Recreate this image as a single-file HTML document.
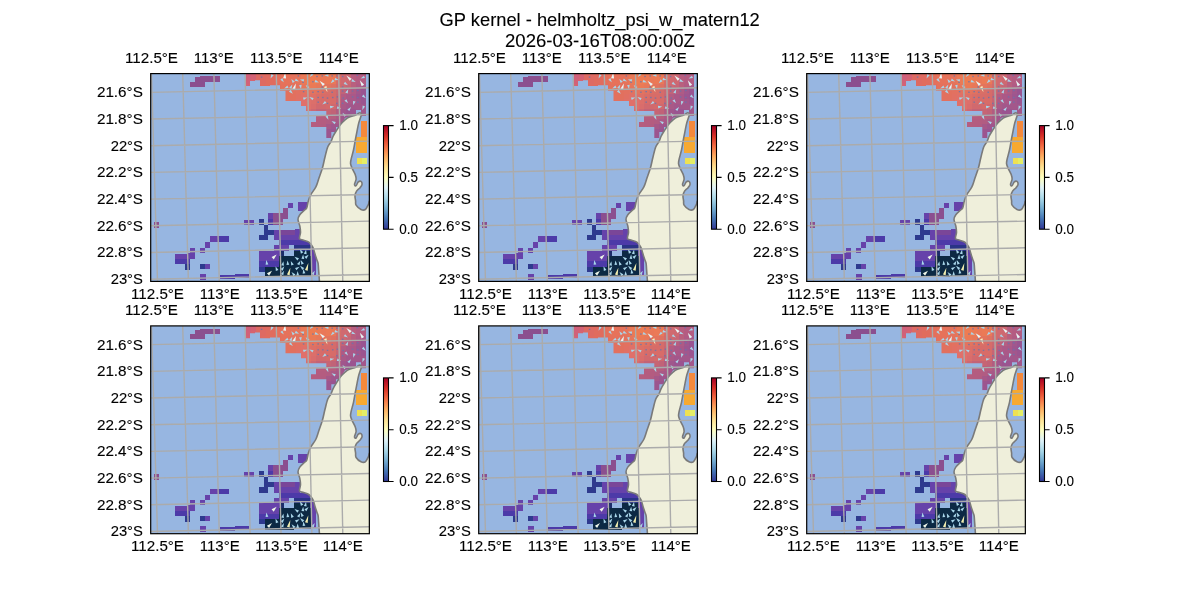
<!DOCTYPE html>
<html><head><meta charset="utf-8"><style>
html,body{margin:0;padding:0;background:#fff;width:1200px;height:600px;overflow:hidden}
svg{display:block;font-family:"Liberation Sans", sans-serif;fill:#000;will-change:transform}
text{stroke:#000;stroke-width:0.12px}
</style></head><body>
<svg width="1200" height="600" viewBox="0 0 1200 600">
<defs><linearGradient id="cmap" x1="0" y1="1" x2="0" y2="0"><stop offset="0.0" stop-color="#313695"/><stop offset="0.1" stop-color="#4575b4"/><stop offset="0.2" stop-color="#74add1"/><stop offset="0.3" stop-color="#abd9e9"/><stop offset="0.4" stop-color="#e0f3f8"/><stop offset="0.5" stop-color="#ffffbf"/><stop offset="0.6" stop-color="#fee090"/><stop offset="0.7" stop-color="#fdae61"/><stop offset="0.8" stop-color="#f46d43"/><stop offset="0.9" stop-color="#d73027"/><stop offset="1.0" stop-color="#a50026"/></linearGradient>
<clipPath id="clip"><rect x="150.7" y="73.6" width="218.65" height="207.8"/></clipPath>
<g id="map"><g clip-path="url(#clip)"><rect x="150.7" y="73.6" width="218.65" height="207.8" fill="#97b6e1"/>
<clipPath id="redclip"><polygon points="246,73.6 366,73.6 366,116 361,116 361,110 356,110 356,114.3 345,118 340,127 336,127 336,132 331.3,132 331.3,138 326.3,138 326.3,127 311,127 311,122 316,122 316,116 326.3,116 326.3,111 306,111 306,106 301,106 301,101 285.5,101 285.5,90.8 280,90.8 280,85.2 270,85.2 270,86 260,86 260,80.2 255,80.2 255,81 250,81 250,86 246,86"/></clipPath>
<g clip-path="url(#redclip)" shape-rendering="crispEdges"><rect x="246" y="73.6" width="5.1" height="5.1" fill="#d0607a"/><rect x="251" y="73.6" width="5.1" height="5.1" fill="#d36274"/><rect x="256" y="73.6" width="5.1" height="5.1" fill="#dd6a63"/><rect x="261" y="73.6" width="5.1" height="5.1" fill="#de6a62"/><rect x="266" y="73.6" width="5.1" height="5.1" fill="#df6b60"/><rect x="271" y="73.6" width="5.1" height="5.1" fill="#e06c5f"/><rect x="276" y="73.6" width="5.1" height="5.1" fill="#e3705c"/><rect x="281" y="73.6" width="5.1" height="5.1" fill="#e6725a"/><rect x="286" y="73.6" width="5.1" height="5.1" fill="#e6725a"/><rect x="291" y="73.6" width="5.1" height="5.1" fill="#e5725b"/><rect x="296" y="73.6" width="5.1" height="5.1" fill="#e6745a"/><rect x="301" y="73.6" width="5.1" height="5.1" fill="#ea7956"/><rect x="306" y="73.6" width="5.1" height="5.1" fill="#ed7b53"/><rect x="311" y="73.6" width="5.1" height="5.1" fill="#ed7c53"/><rect x="316" y="73.6" width="5.1" height="5.1" fill="#eb7a55"/><rect x="321" y="73.6" width="5.1" height="5.1" fill="#ea7957"/><rect x="326" y="73.6" width="5.1" height="5.1" fill="#ec7a55"/><rect x="331" y="73.6" width="5.1" height="5.1" fill="#ea7956"/><rect x="336" y="73.6" width="5.1" height="5.1" fill="#d96f67"/><rect x="341" y="73.6" width="5.1" height="5.1" fill="#d06a70"/><rect x="346" y="73.6" width="5.1" height="5.1" fill="#cc6872"/><rect x="351" y="73.6" width="5.1" height="5.1" fill="#b85e80"/><rect x="356" y="73.6" width="5.1" height="5.1" fill="#b45c82"/><rect x="361" y="73.6" width="5.1" height="5.1" fill="#b45c82"/><rect x="366" y="73.6" width="5.1" height="5.1" fill="#b45d82"/><rect x="246" y="78.6" width="5.1" height="5.1" fill="#d16178"/><rect x="251" y="78.6" width="5.1" height="5.1" fill="#d66470"/><rect x="256" y="78.6" width="5.1" height="5.1" fill="#dd6a63"/><rect x="261" y="78.6" width="5.1" height="5.1" fill="#de6a62"/><rect x="266" y="78.6" width="5.1" height="5.1" fill="#e06c5e"/><rect x="271" y="78.6" width="5.1" height="5.1" fill="#e06c5e"/><rect x="276" y="78.6" width="5.1" height="5.1" fill="#e4705c"/><rect x="281" y="78.6" width="5.1" height="5.1" fill="#e6725a"/><rect x="286" y="78.6" width="5.1" height="5.1" fill="#e6725a"/><rect x="291" y="78.6" width="5.1" height="5.1" fill="#e5725c"/><rect x="296" y="78.6" width="5.1" height="5.1" fill="#e5745b"/><rect x="301" y="78.6" width="5.1" height="5.1" fill="#ea7956"/><rect x="306" y="78.6" width="5.1" height="5.1" fill="#ee7c52"/><rect x="311" y="78.6" width="5.1" height="5.1" fill="#ee7c52"/><rect x="316" y="78.6" width="5.1" height="5.1" fill="#eb7a55"/><rect x="321" y="78.6" width="5.1" height="5.1" fill="#e97858"/><rect x="326" y="78.6" width="5.1" height="5.1" fill="#eb7a56"/><rect x="331" y="78.6" width="5.1" height="5.1" fill="#e97858"/><rect x="336" y="78.6" width="5.1" height="5.1" fill="#d56d6a"/><rect x="341" y="78.6" width="5.1" height="5.1" fill="#d06a70"/><rect x="346" y="78.6" width="5.1" height="5.1" fill="#ce6971"/><rect x="351" y="78.6" width="5.1" height="5.1" fill="#b95f7e"/><rect x="356" y="78.6" width="5.1" height="5.1" fill="#b45c82"/><rect x="361" y="78.6" width="5.1" height="5.1" fill="#b35c82"/><rect x="366" y="78.6" width="5.1" height="5.1" fill="#af5b84"/><rect x="246" y="83.6" width="5.1" height="5.1" fill="#d46373"/><rect x="251" y="83.6" width="5.1" height="5.1" fill="#d8666c"/><rect x="256" y="83.6" width="5.1" height="5.1" fill="#dd6964"/><rect x="261" y="83.6" width="5.1" height="5.1" fill="#df6b61"/><rect x="266" y="83.6" width="5.1" height="5.1" fill="#e06c5e"/><rect x="271" y="83.6" width="5.1" height="5.1" fill="#e06c5e"/><rect x="276" y="83.6" width="5.1" height="5.1" fill="#e26f5d"/><rect x="281" y="83.6" width="5.1" height="5.1" fill="#e5715b"/><rect x="286" y="83.6" width="5.1" height="5.1" fill="#e4715c"/><rect x="291" y="83.6" width="5.1" height="5.1" fill="#e3715d"/><rect x="296" y="83.6" width="5.1" height="5.1" fill="#e3725d"/><rect x="301" y="83.6" width="5.1" height="5.1" fill="#e7765a"/><rect x="306" y="83.6" width="5.1" height="5.1" fill="#eb7a56"/><rect x="311" y="83.6" width="5.1" height="5.1" fill="#eb7a55"/><rect x="316" y="83.6" width="5.1" height="5.1" fill="#e77859"/><rect x="321" y="83.6" width="5.1" height="5.1" fill="#e3755c"/><rect x="326" y="83.6" width="5.1" height="5.1" fill="#e3755d"/><rect x="331" y="83.6" width="5.1" height="5.1" fill="#de7261"/><rect x="336" y="83.6" width="5.1" height="5.1" fill="#d26c6c"/><rect x="341" y="83.6" width="5.1" height="5.1" fill="#cd6971"/><rect x="346" y="83.6" width="5.1" height="5.1" fill="#c76675"/><rect x="351" y="83.6" width="5.1" height="5.1" fill="#b9607e"/><rect x="356" y="83.6" width="5.1" height="5.1" fill="#b05b84"/><rect x="361" y="83.6" width="5.1" height="5.1" fill="#a85989"/><rect x="366" y="83.6" width="5.1" height="5.1" fill="#a5588a"/><rect x="246" y="88.6" width="5.1" height="5.1" fill="#d7666e"/><rect x="251" y="88.6" width="5.1" height="5.1" fill="#da6869"/><rect x="256" y="88.6" width="5.1" height="5.1" fill="#dc6a64"/><rect x="261" y="88.6" width="5.1" height="5.1" fill="#de6b61"/><rect x="266" y="88.6" width="5.1" height="5.1" fill="#df6c60"/><rect x="271" y="88.6" width="5.1" height="5.1" fill="#e06d5f"/><rect x="276" y="88.6" width="5.1" height="5.1" fill="#e16f5e"/><rect x="281" y="88.6" width="5.1" height="5.1" fill="#e2705e"/><rect x="286" y="88.6" width="5.1" height="5.1" fill="#e2705e"/><rect x="291" y="88.6" width="5.1" height="5.1" fill="#e2705e"/><rect x="296" y="88.6" width="5.1" height="5.1" fill="#e27160"/><rect x="301" y="88.6" width="5.1" height="5.1" fill="#e27261"/><rect x="306" y="88.6" width="5.1" height="5.1" fill="#e3745f"/><rect x="311" y="88.6" width="5.1" height="5.1" fill="#e3745e"/><rect x="316" y="88.6" width="5.1" height="5.1" fill="#df7261"/><rect x="321" y="88.6" width="5.1" height="5.1" fill="#db6f64"/><rect x="326" y="88.6" width="5.1" height="5.1" fill="#d86e67"/><rect x="331" y="88.6" width="5.1" height="5.1" fill="#d56c6a"/><rect x="336" y="88.6" width="5.1" height="5.1" fill="#cb6871"/><rect x="341" y="88.6" width="5.1" height="5.1" fill="#c06379"/><rect x="346" y="88.6" width="5.1" height="5.1" fill="#b65e80"/><rect x="351" y="88.6" width="5.1" height="5.1" fill="#ae5b85"/><rect x="356" y="88.6" width="5.1" height="5.1" fill="#a1578d"/><rect x="361" y="88.6" width="5.1" height="5.1" fill="#995491"/><rect x="366" y="88.6" width="5.1" height="5.1" fill="#9b5590"/><rect x="246" y="93.6" width="5.1" height="5.1" fill="#d9676b"/><rect x="251" y="93.6" width="5.1" height="5.1" fill="#da6968"/><rect x="256" y="93.6" width="5.1" height="5.1" fill="#dc6a65"/><rect x="261" y="93.6" width="5.1" height="5.1" fill="#de6b62"/><rect x="266" y="93.6" width="5.1" height="5.1" fill="#df6c61"/><rect x="271" y="93.6" width="5.1" height="5.1" fill="#e06d60"/><rect x="276" y="93.6" width="5.1" height="5.1" fill="#e16f5f"/><rect x="281" y="93.6" width="5.1" height="5.1" fill="#e2705e"/><rect x="286" y="93.6" width="5.1" height="5.1" fill="#e2705e"/><rect x="291" y="93.6" width="5.1" height="5.1" fill="#e2705e"/><rect x="296" y="93.6" width="5.1" height="5.1" fill="#e17063"/><rect x="301" y="93.6" width="5.1" height="5.1" fill="#e07068"/><rect x="306" y="93.6" width="5.1" height="5.1" fill="#df7068"/><rect x="311" y="93.6" width="5.1" height="5.1" fill="#dd7066"/><rect x="316" y="93.6" width="5.1" height="5.1" fill="#d96e67"/><rect x="321" y="93.6" width="5.1" height="5.1" fill="#d76c68"/><rect x="326" y="93.6" width="5.1" height="5.1" fill="#d76c68"/><rect x="331" y="93.6" width="5.1" height="5.1" fill="#d66b69"/><rect x="336" y="93.6" width="5.1" height="5.1" fill="#c86673"/><rect x="341" y="93.6" width="5.1" height="5.1" fill="#b35c82"/><rect x="346" y="93.6" width="5.1" height="5.1" fill="#ab5987"/><rect x="351" y="93.6" width="5.1" height="5.1" fill="#aa5888"/><rect x="356" y="93.6" width="5.1" height="5.1" fill="#9d568f"/><rect x="361" y="93.6" width="5.1" height="5.1" fill="#985492"/><rect x="366" y="93.6" width="5.1" height="5.1" fill="#995491"/><rect x="246" y="98.6" width="5.1" height="5.1" fill="#d96869"/><rect x="251" y="98.6" width="5.1" height="5.1" fill="#db6967"/><rect x="256" y="98.6" width="5.1" height="5.1" fill="#dc6a65"/><rect x="261" y="98.6" width="5.1" height="5.1" fill="#dd6b63"/><rect x="266" y="98.6" width="5.1" height="5.1" fill="#de6c62"/><rect x="271" y="98.6" width="5.1" height="5.1" fill="#df6d61"/><rect x="276" y="98.6" width="5.1" height="5.1" fill="#e06f60"/><rect x="281" y="98.6" width="5.1" height="5.1" fill="#e1705f"/><rect x="286" y="98.6" width="5.1" height="5.1" fill="#e2705f"/><rect x="291" y="98.6" width="5.1" height="5.1" fill="#e17060"/><rect x="296" y="98.6" width="5.1" height="5.1" fill="#e07067"/><rect x="301" y="98.6" width="5.1" height="5.1" fill="#e0706a"/><rect x="306" y="98.6" width="5.1" height="5.1" fill="#e0706a"/><rect x="311" y="98.6" width="5.1" height="5.1" fill="#dc6f6a"/><rect x="316" y="98.6" width="5.1" height="5.1" fill="#d66c6a"/><rect x="321" y="98.6" width="5.1" height="5.1" fill="#d66b69"/><rect x="326" y="98.6" width="5.1" height="5.1" fill="#d86c68"/><rect x="331" y="98.6" width="5.1" height="5.1" fill="#d76c69"/><rect x="336" y="98.6" width="5.1" height="5.1" fill="#c66574"/><rect x="341" y="98.6" width="5.1" height="5.1" fill="#ae5a85"/><rect x="346" y="98.6" width="5.1" height="5.1" fill="#aa5888"/><rect x="351" y="98.6" width="5.1" height="5.1" fill="#aa5888"/><rect x="356" y="98.6" width="5.1" height="5.1" fill="#a2578c"/><rect x="361" y="98.6" width="5.1" height="5.1" fill="#9b5590"/><rect x="366" y="98.6" width="5.1" height="5.1" fill="#9c5590"/><rect x="246" y="103.6" width="5.1" height="5.1" fill="#d96968"/><rect x="251" y="103.6" width="5.1" height="5.1" fill="#da6a67"/><rect x="256" y="103.6" width="5.1" height="5.1" fill="#db6b65"/><rect x="261" y="103.6" width="5.1" height="5.1" fill="#dc6b64"/><rect x="266" y="103.6" width="5.1" height="5.1" fill="#dd6c63"/><rect x="271" y="103.6" width="5.1" height="5.1" fill="#de6d62"/><rect x="276" y="103.6" width="5.1" height="5.1" fill="#df6e62"/><rect x="281" y="103.6" width="5.1" height="5.1" fill="#df6f61"/><rect x="286" y="103.6" width="5.1" height="5.1" fill="#e06f62"/><rect x="291" y="103.6" width="5.1" height="5.1" fill="#df6f64"/><rect x="296" y="103.6" width="5.1" height="5.1" fill="#df7069"/><rect x="301" y="103.6" width="5.1" height="5.1" fill="#e0706a"/><rect x="306" y="103.6" width="5.1" height="5.1" fill="#df706a"/><rect x="311" y="103.6" width="5.1" height="5.1" fill="#d96d6c"/><rect x="316" y="103.6" width="5.1" height="5.1" fill="#d1696e"/><rect x="321" y="103.6" width="5.1" height="5.1" fill="#d1696d"/><rect x="326" y="103.6" width="5.1" height="5.1" fill="#d46a6b"/><rect x="331" y="103.6" width="5.1" height="5.1" fill="#d0696d"/><rect x="336" y="103.6" width="5.1" height="5.1" fill="#bd617a"/><rect x="341" y="103.6" width="5.1" height="5.1" fill="#a95987"/><rect x="346" y="103.6" width="5.1" height="5.1" fill="#a3578b"/><rect x="351" y="103.6" width="5.1" height="5.1" fill="#a3578b"/><rect x="356" y="103.6" width="5.1" height="5.1" fill="#a3578b"/><rect x="361" y="103.6" width="5.1" height="5.1" fill="#a1578c"/><rect x="366" y="103.6" width="5.1" height="5.1" fill="#a0578d"/><rect x="246" y="108.6" width="5.1" height="5.1" fill="#d96968"/><rect x="251" y="108.6" width="5.1" height="5.1" fill="#da6a67"/><rect x="256" y="108.6" width="5.1" height="5.1" fill="#db6b66"/><rect x="261" y="108.6" width="5.1" height="5.1" fill="#db6b65"/><rect x="266" y="108.6" width="5.1" height="5.1" fill="#dc6c64"/><rect x="271" y="108.6" width="5.1" height="5.1" fill="#dc6d64"/><rect x="276" y="108.6" width="5.1" height="5.1" fill="#dd6d64"/><rect x="281" y="108.6" width="5.1" height="5.1" fill="#dd6e64"/><rect x="286" y="108.6" width="5.1" height="5.1" fill="#dd6e65"/><rect x="291" y="108.6" width="5.1" height="5.1" fill="#dc6e67"/><rect x="296" y="108.6" width="5.1" height="5.1" fill="#dc6e6a"/><rect x="301" y="108.6" width="5.1" height="5.1" fill="#dc6e6b"/><rect x="306" y="108.6" width="5.1" height="5.1" fill="#d86d6d"/><rect x="311" y="108.6" width="5.1" height="5.1" fill="#cd6872"/><rect x="316" y="108.6" width="5.1" height="5.1" fill="#c36377"/><rect x="321" y="108.6" width="5.1" height="5.1" fill="#c36376"/><rect x="326" y="108.6" width="5.1" height="5.1" fill="#c66574"/><rect x="331" y="108.6" width="5.1" height="5.1" fill="#c16377"/><rect x="336" y="108.6" width="5.1" height="5.1" fill="#b15d81"/><rect x="341" y="108.6" width="5.1" height="5.1" fill="#a0568c"/><rect x="346" y="108.6" width="5.1" height="5.1" fill="#9a5490"/><rect x="351" y="108.6" width="5.1" height="5.1" fill="#9b5490"/><rect x="356" y="108.6" width="5.1" height="5.1" fill="#9f568d"/><rect x="361" y="108.6" width="5.1" height="5.1" fill="#a2578b"/><rect x="366" y="108.6" width="5.1" height="5.1" fill="#a4588b"/><rect x="246" y="113.6" width="5.1" height="5.1" fill="#d96a68"/><rect x="251" y="113.6" width="5.1" height="5.1" fill="#d96a67"/><rect x="256" y="113.6" width="5.1" height="5.1" fill="#da6b67"/><rect x="261" y="113.6" width="5.1" height="5.1" fill="#da6b66"/><rect x="266" y="113.6" width="5.1" height="5.1" fill="#da6c66"/><rect x="271" y="113.6" width="5.1" height="5.1" fill="#da6c66"/><rect x="276" y="113.6" width="5.1" height="5.1" fill="#da6c66"/><rect x="281" y="113.6" width="5.1" height="5.1" fill="#da6d66"/><rect x="286" y="113.6" width="5.1" height="5.1" fill="#d96d68"/><rect x="291" y="113.6" width="5.1" height="5.1" fill="#d86c6a"/><rect x="296" y="113.6" width="5.1" height="5.1" fill="#d66c6c"/><rect x="301" y="113.6" width="5.1" height="5.1" fill="#d26a6f"/><rect x="306" y="113.6" width="5.1" height="5.1" fill="#c96674"/><rect x="311" y="113.6" width="5.1" height="5.1" fill="#bc607b"/><rect x="316" y="113.6" width="5.1" height="5.1" fill="#b65d7f"/><rect x="321" y="113.6" width="5.1" height="5.1" fill="#b65d7e"/><rect x="326" y="113.6" width="5.1" height="5.1" fill="#b85e7d"/><rect x="331" y="113.6" width="5.1" height="5.1" fill="#b55e7f"/><rect x="336" y="113.6" width="5.1" height="5.1" fill="#ab5a85"/><rect x="341" y="113.6" width="5.1" height="5.1" fill="#a0568c"/><rect x="346" y="113.6" width="5.1" height="5.1" fill="#9b548f"/><rect x="351" y="113.6" width="5.1" height="5.1" fill="#9c558f"/><rect x="356" y="113.6" width="5.1" height="5.1" fill="#9f568d"/><rect x="361" y="113.6" width="5.1" height="5.1" fill="#a3578b"/><rect x="366" y="113.6" width="5.1" height="5.1" fill="#a55889"/><rect x="246" y="118.6" width="5.1" height="5.1" fill="#d86a68"/><rect x="251" y="118.6" width="5.1" height="5.1" fill="#d86a68"/><rect x="256" y="118.6" width="5.1" height="5.1" fill="#d86a67"/><rect x="261" y="118.6" width="5.1" height="5.1" fill="#d86b67"/><rect x="266" y="118.6" width="5.1" height="5.1" fill="#d86b67"/><rect x="271" y="118.6" width="5.1" height="5.1" fill="#d86b67"/><rect x="276" y="118.6" width="5.1" height="5.1" fill="#d86b68"/><rect x="281" y="118.6" width="5.1" height="5.1" fill="#d76b69"/><rect x="286" y="118.6" width="5.1" height="5.1" fill="#d56b6a"/><rect x="291" y="118.6" width="5.1" height="5.1" fill="#d36a6d"/><rect x="296" y="118.6" width="5.1" height="5.1" fill="#cf6870"/><rect x="301" y="118.6" width="5.1" height="5.1" fill="#c86674"/><rect x="306" y="118.6" width="5.1" height="5.1" fill="#be617a"/><rect x="311" y="118.6" width="5.1" height="5.1" fill="#b65d7f"/><rect x="316" y="118.6" width="5.1" height="5.1" fill="#b45c80"/><rect x="321" y="118.6" width="5.1" height="5.1" fill="#b45c80"/><rect x="326" y="118.6" width="5.1" height="5.1" fill="#b15c82"/><rect x="331" y="118.6" width="5.1" height="5.1" fill="#ab5a86"/><rect x="336" y="118.6" width="5.1" height="5.1" fill="#a75988"/><rect x="341" y="118.6" width="5.1" height="5.1" fill="#a3578a"/><rect x="346" y="118.6" width="5.1" height="5.1" fill="#9f568d"/><rect x="351" y="118.6" width="5.1" height="5.1" fill="#9f568d"/><rect x="356" y="118.6" width="5.1" height="5.1" fill="#a1578c"/><rect x="361" y="118.6" width="5.1" height="5.1" fill="#a4588a"/><rect x="366" y="118.6" width="5.1" height="5.1" fill="#a75988"/><rect x="246" y="123.6" width="5.1" height="5.1" fill="#d76a69"/><rect x="251" y="123.6" width="5.1" height="5.1" fill="#d76a69"/><rect x="256" y="123.6" width="5.1" height="5.1" fill="#d76a68"/><rect x="261" y="123.6" width="5.1" height="5.1" fill="#d76a68"/><rect x="266" y="123.6" width="5.1" height="5.1" fill="#d66a69"/><rect x="271" y="123.6" width="5.1" height="5.1" fill="#d66a69"/><rect x="276" y="123.6" width="5.1" height="5.1" fill="#d56a6a"/><rect x="281" y="123.6" width="5.1" height="5.1" fill="#d36a6b"/><rect x="286" y="123.6" width="5.1" height="5.1" fill="#d1696d"/><rect x="291" y="123.6" width="5.1" height="5.1" fill="#ce6870"/><rect x="296" y="123.6" width="5.1" height="5.1" fill="#c96673"/><rect x="301" y="123.6" width="5.1" height="5.1" fill="#c26377"/><rect x="306" y="123.6" width="5.1" height="5.1" fill="#ba5f7c"/><rect x="311" y="123.6" width="5.1" height="5.1" fill="#b55d7f"/><rect x="316" y="123.6" width="5.1" height="5.1" fill="#b45c80"/><rect x="321" y="123.6" width="5.1" height="5.1" fill="#b25c81"/><rect x="326" y="123.6" width="5.1" height="5.1" fill="#a65888"/><rect x="331" y="123.6" width="5.1" height="5.1" fill="#9f568d"/><rect x="336" y="123.6" width="5.1" height="5.1" fill="#a0568c"/><rect x="341" y="123.6" width="5.1" height="5.1" fill="#a2578b"/><rect x="346" y="123.6" width="5.1" height="5.1" fill="#a3578a"/><rect x="351" y="123.6" width="5.1" height="5.1" fill="#a3578a"/><rect x="356" y="123.6" width="5.1" height="5.1" fill="#a4588a"/><rect x="361" y="123.6" width="5.1" height="5.1" fill="#a65989"/><rect x="366" y="123.6" width="5.1" height="5.1" fill="#a85987"/><rect x="246" y="128.6" width="5.1" height="5.1" fill="#d6696a"/><rect x="251" y="128.6" width="5.1" height="5.1" fill="#d66a6a"/><rect x="256" y="128.6" width="5.1" height="5.1" fill="#d56a6a"/><rect x="261" y="128.6" width="5.1" height="5.1" fill="#d56a6a"/><rect x="266" y="128.6" width="5.1" height="5.1" fill="#d46a6a"/><rect x="271" y="128.6" width="5.1" height="5.1" fill="#d36a6b"/><rect x="276" y="128.6" width="5.1" height="5.1" fill="#d2696c"/><rect x="281" y="128.6" width="5.1" height="5.1" fill="#d0696d"/><rect x="286" y="128.6" width="5.1" height="5.1" fill="#cd686f"/><rect x="291" y="128.6" width="5.1" height="5.1" fill="#ca6672"/><rect x="296" y="128.6" width="5.1" height="5.1" fill="#c56475"/><rect x="301" y="128.6" width="5.1" height="5.1" fill="#bf6279"/><rect x="306" y="128.6" width="5.1" height="5.1" fill="#b95f7d"/><rect x="311" y="128.6" width="5.1" height="5.1" fill="#b55d80"/><rect x="316" y="128.6" width="5.1" height="5.1" fill="#b15c82"/><rect x="321" y="128.6" width="5.1" height="5.1" fill="#a95987"/><rect x="326" y="128.6" width="5.1" height="5.1" fill="#9c558f"/><rect x="331" y="128.6" width="5.1" height="5.1" fill="#9a5490"/><rect x="336" y="128.6" width="5.1" height="5.1" fill="#9c558f"/><rect x="341" y="128.6" width="5.1" height="5.1" fill="#a0568c"/><rect x="346" y="128.6" width="5.1" height="5.1" fill="#a3588a"/><rect x="351" y="128.6" width="5.1" height="5.1" fill="#a55889"/><rect x="356" y="128.6" width="5.1" height="5.1" fill="#a75988"/><rect x="361" y="128.6" width="5.1" height="5.1" fill="#a85987"/><rect x="366" y="128.6" width="5.1" height="5.1" fill="#aa5a86"/><rect x="246" y="133.6" width="5.1" height="5.1" fill="#d5696a"/><rect x="251" y="133.6" width="5.1" height="5.1" fill="#d4696a"/><rect x="256" y="133.6" width="5.1" height="5.1" fill="#d4696b"/><rect x="261" y="133.6" width="5.1" height="5.1" fill="#d3696b"/><rect x="266" y="133.6" width="5.1" height="5.1" fill="#d2696b"/><rect x="271" y="133.6" width="5.1" height="5.1" fill="#d1696c"/><rect x="276" y="133.6" width="5.1" height="5.1" fill="#d0686d"/><rect x="281" y="133.6" width="5.1" height="5.1" fill="#cd686f"/><rect x="286" y="133.6" width="5.1" height="5.1" fill="#cb6671"/><rect x="291" y="133.6" width="5.1" height="5.1" fill="#c76574"/><rect x="296" y="133.6" width="5.1" height="5.1" fill="#c26377"/><rect x="301" y="133.6" width="5.1" height="5.1" fill="#bd617a"/><rect x="306" y="133.6" width="5.1" height="5.1" fill="#b85f7d"/><rect x="311" y="133.6" width="5.1" height="5.1" fill="#b35d81"/><rect x="316" y="133.6" width="5.1" height="5.1" fill="#ad5a84"/><rect x="321" y="133.6" width="5.1" height="5.1" fill="#a3578a"/><rect x="326" y="133.6" width="5.1" height="5.1" fill="#9c558f"/><rect x="331" y="133.6" width="5.1" height="5.1" fill="#9a5490"/><rect x="336" y="133.6" width="5.1" height="5.1" fill="#9b558f"/><rect x="341" y="133.6" width="5.1" height="5.1" fill="#9f568d"/><rect x="346" y="133.6" width="5.1" height="5.1" fill="#a3578a"/><rect x="351" y="133.6" width="5.1" height="5.1" fill="#a65988"/><rect x="356" y="133.6" width="5.1" height="5.1" fill="#a85987"/><rect x="361" y="133.6" width="5.1" height="5.1" fill="#aa5a86"/><rect x="366" y="133.6" width="5.1" height="5.1" fill="#ab5a85"/><rect x="246" y="138.6" width="5.1" height="5.1" fill="#d3696b"/><rect x="251" y="138.6" width="5.1" height="5.1" fill="#d3696b"/><rect x="256" y="138.6" width="5.1" height="5.1" fill="#d2696c"/><rect x="261" y="138.6" width="5.1" height="5.1" fill="#d2696c"/><rect x="266" y="138.6" width="5.1" height="5.1" fill="#d1686d"/><rect x="271" y="138.6" width="5.1" height="5.1" fill="#cf686e"/><rect x="276" y="138.6" width="5.1" height="5.1" fill="#cd676f"/><rect x="281" y="138.6" width="5.1" height="5.1" fill="#cb6771"/><rect x="286" y="138.6" width="5.1" height="5.1" fill="#c86673"/><rect x="291" y="138.6" width="5.1" height="5.1" fill="#c56475"/><rect x="296" y="138.6" width="5.1" height="5.1" fill="#c06278"/><rect x="301" y="138.6" width="5.1" height="5.1" fill="#bc607b"/><rect x="306" y="138.6" width="5.1" height="5.1" fill="#b75e7e"/><rect x="311" y="138.6" width="5.1" height="5.1" fill="#b25c81"/><rect x="316" y="138.6" width="5.1" height="5.1" fill="#ab5a85"/><rect x="321" y="138.6" width="5.1" height="5.1" fill="#a4588a"/><rect x="326" y="138.6" width="5.1" height="5.1" fill="#9e568d"/><rect x="331" y="138.6" width="5.1" height="5.1" fill="#9d558e"/><rect x="336" y="138.6" width="5.1" height="5.1" fill="#9e558e"/><rect x="341" y="138.6" width="5.1" height="5.1" fill="#a1568c"/><rect x="346" y="138.6" width="5.1" height="5.1" fill="#a4588a"/><rect x="351" y="138.6" width="5.1" height="5.1" fill="#a75988"/><rect x="356" y="138.6" width="5.1" height="5.1" fill="#a95a86"/><rect x="361" y="138.6" width="5.1" height="5.1" fill="#ab5a85"/><rect x="366" y="138.6" width="5.1" height="5.1" fill="#ac5b85"/></g>
<g shape-rendering="crispEdges"><rect x="200.2" y="76.3" width="19.8" height="5.2" fill="#8b4f8f"/><rect x="195.3" y="77.4" width="4.9" height="4.3" fill="#8b4f8f"/><rect x="190.2" y="81.5" width="14.6" height="5.3" fill="#8b4f8f"/><rect x="361.1" y="121" width="5.5" height="16.3" fill="#f4893c"/><rect x="356" y="137.3" width="10.6" height="15.7" fill="#f7a931"/><rect x="356.8" y="158" width="5.2" height="6" fill="#eee152"/><rect x="362" y="158" width="4.8" height="6" fill="#e4ee66"/><rect x="153.8" y="222" width="5.1" height="5.8" fill="#8b4f8f"/><rect x="175.3" y="254" width="11.7" height="4.8" fill="#6642aa"/><rect x="187" y="252.6" width="8.1" height="6.2" fill="#6642aa"/><rect x="175.3" y="258.8" width="14.4" height="4.8" fill="#4c3aa8"/><rect x="184.9" y="263.6" width="4.8" height="6.1" fill="#2e3a8e"/><rect x="190.3" y="247.9" width="4.8" height="4.7" fill="#6642aa"/><rect x="199.9" y="247.9" width="4.8" height="4.7" fill="#6642aa"/><rect x="204.7" y="242.4" width="5.2" height="5.5" fill="#6642aa"/><rect x="209.5" y="236.2" width="8.9" height="5.5" fill="#6642aa"/><rect x="218.4" y="236.2" width="10.9" height="5.5" fill="#4c3aa8"/><rect x="199.9" y="264" width="4.8" height="5" fill="#2e3a8e"/><rect x="204.7" y="264" width="5.2" height="5" fill="#6642aa"/><rect x="199.9" y="273.8" width="6.1" height="6.2" fill="#6642aa"/><rect x="219.7" y="275" width="14.8" height="3.6" fill="#4c3aa8"/><rect x="234.5" y="273.6" width="14.9" height="4.4" fill="#4c3aa8"/><rect x="298" y="201.8" width="9.8" height="9.2" fill="#6642aa"/><rect x="288" y="202.7" width="4.9" height="5.1" fill="#6642aa"/><rect x="283.2" y="207.8" width="4.8" height="5.2" fill="#8b4f8f"/><rect x="268.1" y="213" width="5.2" height="5.5" fill="#6642aa"/><rect x="273.3" y="213" width="14.7" height="5.5" fill="#8b4f8f"/><rect x="244" y="219.8" width="10" height="4.8" fill="#6642aa"/><rect x="259.1" y="219" width="4.7" height="5.7" fill="#2e3a8e"/><rect x="268.4" y="218.5" width="4.7" height="6.2" fill="#4c3aa8"/><rect x="273.1" y="218.5" width="9.9" height="6.2" fill="#8b4f8f"/><rect x="263.8" y="224.7" width="4.6" height="5.1" fill="#2e3a8e"/><rect x="263.8" y="229.8" width="9.8" height="5.2" fill="#2e3a8e"/><rect x="273.6" y="229.8" width="5.2" height="5.2" fill="#6642aa"/><rect x="278.8" y="229.8" width="19.6" height="5.2" fill="#7a4698"/><rect x="259.1" y="235" width="9.3" height="5.2" fill="#2e3a8e"/><rect x="273.6" y="235" width="5.2" height="5.2" fill="#6642aa"/><rect x="278.8" y="235" width="21.2" height="5.2" fill="#6642aa"/><rect x="295" y="229.2" width="5" height="10.8" fill="#6642aa"/><rect x="278.8" y="240.2" width="31.2" height="5.1" fill="#4c3aa8"/><rect x="273.6" y="245.3" width="15.5" height="5.2" fill="#6642aa"/><rect x="294.3" y="245.3" width="19.7" height="5.2" fill="#2a3486"/><rect x="259.1" y="250.5" width="24.9" height="5.2" fill="#6642aa"/><rect x="294.3" y="250.5" width="15.7" height="5.2" fill="#0c2944"/><rect x="281" y="250.5" width="3.3" height="5.5" fill="#1c2c6a"/><rect x="310" y="248" width="6" height="28" fill="#6642aa"/><rect x="259.1" y="255.7" width="19.7" height="5.7" fill="#6642aa"/><rect x="278.8" y="255.7" width="32" height="5.7" fill="#0c2944"/><rect x="259.1" y="261.4" width="6.2" height="5.1" fill="#4c3aa8"/><rect x="265.3" y="261.4" width="13.5" height="5.1" fill="#4c3aa8"/><rect x="278.8" y="261.4" width="32" height="5.1" fill="#0c2944"/><rect x="259.1" y="266.5" width="6.2" height="5.2" fill="#2e3a8e"/><rect x="265.3" y="266.5" width="45.5" height="5.2" fill="#0c2944"/><rect x="265.3" y="271.7" width="45.5" height="4.7" fill="#0c2944"/><rect x="265.3" y="276.4" width="29" height="1" fill="#0c2944"/></g>
<polygon points="270.57,78.38 271.28,74.04 273.61,75.2" fill="#a9d6ea"/>
<polygon points="283.82,82.29 280.31,79.64 282.42,78.12" fill="#a9d6ea"/>
<polygon points="291.28,78.88 294.79,81.53 292.68,83.05" fill="#a9d6ea"/>
<polygon points="299.06,81.51 294.72,80.83 295.86,78.49" fill="#a9d6ea"/>
<polygon points="299.8,79.53 304.18,79.2 303.6,81.74" fill="#a9d6ea"/>
<polygon points="309.78,76.9 311.6,72.9 313.55,74.63" fill="#a9d6ea"/>
<polygon points="318.97,82.5 314.59,82.22 315.51,79.79" fill="#a9d6ea"/>
<polygon points="324.25,75.24 328.51,74.13 328.38,76.73" fill="#a9d6ea"/>
<polygon points="338.89,79.91 334.5,80.19 335.11,77.66" fill="#a9d6ea"/>
<polygon points="360.6,78.52 363.91,75.63 364.97,78.01" fill="#a9d6ea"/>
<polygon points="355.67,82.06 351.32,81.45 352.42,79.1" fill="#a9d6ea"/>
<polygon points="347.95,85.22 343.71,84.05 345.12,81.86" fill="#a9d6ea"/>
<polygon points="284.22,88.54 287.37,85.47 288.55,87.78" fill="#a9d6ea"/>
<polygon points="292.32,84.56 291.52,88.88 289.22,87.68" fill="#a9d6ea"/>
<polygon points="292.84,93.73 288.93,91.71 290.76,89.85" fill="#a9d6ea"/>
<polygon points="301.03,89.07 299.04,85.15 301.61,84.71" fill="#a9d6ea"/>
<polygon points="305.63,84.91 309.49,87.02 307.62,88.83" fill="#a9d6ea"/>
<polygon points="307.33,97.41 303.78,100 302.94,97.53" fill="#a9d6ea"/>
<polygon points="309.32,97.11 313.64,97.92 312.43,100.22" fill="#a9d6ea"/>
<polygon points="322.34,104.61 324.9,101.03 326.47,103.1" fill="#a9d6ea"/>
<polygon points="334.26,106.53 330.3,108.44 329.91,105.87" fill="#a9d6ea"/>
<polygon points="341.19,108.61 336.8,108.64 337.55,106.16" fill="#a9d6ea"/>
<polygon points="351.01,106.96 349.37,111.04 347.35,109.4" fill="#a9d6ea"/>
<polygon points="353.25,105.37 353.03,100.98 355.55,101.62" fill="#a9d6ea"/>
<polygon points="348.06,103.24 344.45,100.74 346.5,99.13" fill="#a9d6ea"/>
<polygon points="365.82,98.34 361.84,96.46 363.6,94.54" fill="#a9d6ea"/>
<polygon points="362.35,109.97 362.65,105.58 365.07,106.51" fill="#a9d6ea"/>
<polygon points="348.2,89.17 347.69,93.53 345.31,92.48" fill="#a9d6ea"/>
<polygon points="328.4,119.83 325.45,116.57 327.81,115.47" fill="#a9d6ea"/>
<polygon points="331.52,120.98 335.82,121.91 334.54,124.17" fill="#a9d6ea"/>
<polygon points="342.5,112.81 346.2,115.2 344.2,116.87" fill="#a9d6ea"/>
<polygon points="330.72,83.26 332.71,79.34 334.58,81.15" fill="#a9d6ea"/>
<polygon points="285.26,72.35 286.08,78.48 283.1,78.15" fill="#e8f4f4"/>
<polygon points="319.51,80.85 324.89,83.9 322.82,86.07" fill="#e8f4f4"/>
<polygon points="346.33,75.61 351.73,78.63 349.68,80.82" fill="#e8f4f4"/>
<polygon points="359.82,80.34 364.18,84.73 361.6,86.26" fill="#e8f4f4"/>
<polygon points="295.91,83.61 295.18,89.76 292.37,88.69" fill="#e8f4f4"/>
<polygon points="327.43,92.13 324.05,87.01 326.47,86.07" fill="#f6f0c0"/>
<rect x="260.84" y="76.43" width="1.5" height="1.3" fill="#6676ae" opacity="0.85"/>
<rect x="297.59" y="75.27" width="1.5" height="1.3" fill="#6676ae" opacity="0.85"/>
<rect x="302.26" y="81.68" width="1.5" height="1.3" fill="#6676ae" opacity="0.85"/>
<rect x="312.18" y="81.1" width="1.5" height="1.3" fill="#6676ae" opacity="0.85"/>
<rect x="316.26" y="75.85" width="1.5" height="1.3" fill="#6676ae" opacity="0.85"/>
<rect x="321.51" y="75.27" width="1.5" height="1.3" fill="#6676ae" opacity="0.85"/>
<rect x="331.43" y="75.27" width="1.5" height="1.3" fill="#6676ae" opacity="0.85"/>
<rect x="341.93" y="75.85" width="1.5" height="1.3" fill="#6676ae" opacity="0.85"/>
<rect x="356.52" y="74.68" width="1.5" height="1.3" fill="#6676ae" opacity="0.85"/>
<rect x="321.51" y="86.35" width="1.5" height="1.3" fill="#6676ae" opacity="0.85"/>
<rect x="312.18" y="91.6" width="1.5" height="1.3" fill="#6676ae" opacity="0.85"/>
<rect x="317.43" y="91.02" width="1.5" height="1.3" fill="#6676ae" opacity="0.85"/>
<rect x="322.1" y="91.6" width="1.5" height="1.3" fill="#6676ae" opacity="0.85"/>
<rect x="331.43" y="91.6" width="1.5" height="1.3" fill="#6676ae" opacity="0.85"/>
<rect x="341.93" y="90.44" width="1.5" height="1.3" fill="#6676ae" opacity="0.85"/>
<rect x="351.85" y="90.44" width="1.5" height="1.3" fill="#6676ae" opacity="0.85"/>
<rect x="357.1" y="89.85" width="1.5" height="1.3" fill="#6676ae" opacity="0.85"/>
<rect x="302.84" y="91.02" width="1.5" height="1.3" fill="#6676ae" opacity="0.85"/>
<rect x="317.43" y="96.85" width="1.5" height="1.3" fill="#6676ae" opacity="0.85"/>
<rect x="322.1" y="96.85" width="1.5" height="1.3" fill="#6676ae" opacity="0.85"/>
<rect x="326.76" y="97.44" width="1.5" height="1.3" fill="#6676ae" opacity="0.85"/>
<rect x="332.02" y="96.85" width="1.5" height="1.3" fill="#6676ae" opacity="0.85"/>
<rect x="336.68" y="96.27" width="1.5" height="1.3" fill="#6676ae" opacity="0.85"/>
<rect x="342.52" y="97.44" width="1.5" height="1.3" fill="#6676ae" opacity="0.85"/>
<rect x="351.85" y="96.27" width="1.5" height="1.3" fill="#6676ae" opacity="0.85"/>
<rect x="357.1" y="96.85" width="1.5" height="1.3" fill="#6676ae" opacity="0.85"/>
<rect x="317.43" y="101.52" width="1.5" height="1.3" fill="#6676ae" opacity="0.85"/>
<rect x="326.76" y="102.69" width="1.5" height="1.3" fill="#6676ae" opacity="0.85"/>
<rect x="336.1" y="102.69" width="1.5" height="1.3" fill="#6676ae" opacity="0.85"/>
<rect x="341.93" y="102.69" width="1.5" height="1.3" fill="#6676ae" opacity="0.85"/>
<rect x="357.1" y="101.52" width="1.5" height="1.3" fill="#6676ae" opacity="0.85"/>
<rect x="341.93" y="86.35" width="1.5" height="1.3" fill="#6676ae" opacity="0.85"/>
<rect x="336.1" y="75.27" width="1.5" height="1.3" fill="#6676ae" opacity="0.85"/>
<polygon points="266.37,260.1 268.35,264.38 265.57,264.75" fill="#a9d6ea"/>
<polygon points="275.52,266.24 278.45,269.93 275.84,270.94" fill="#a9d6ea"/>
<polygon points="283.45,261.13 283.92,265.82 281.18,265.26" fill="#a9d6ea"/>
<polygon points="287.49,260.42 289.24,264.8 286.45,265.02" fill="#a9d6ea"/>
<polygon points="290.79,260.93 293.83,264.53 291.25,265.62" fill="#a9d6ea"/>
<polygon points="284.34,266.19 282.78,270.64 280.53,268.97" fill="#a9d6ea"/>
<polygon points="283.96,270.63 283.31,275.3 280.78,274.11" fill="#a9d6ea"/>
<polygon points="299.89,249.04 303.33,252.26 300.89,253.65" fill="#a9d6ea"/>
<polygon points="306.06,249.45 306.65,254.13 303.89,253.63" fill="#a9d6ea"/>
<polygon points="303.17,254.42 304.23,259.01 301.44,258.81" fill="#a9d6ea"/>
<polygon points="308.63,254.78 306.34,258.9 304.41,256.87" fill="#a9d6ea"/>
<polygon points="300.42,260.69 299.48,265.31 297.02,263.96" fill="#a9d6ea"/>
<polygon points="300.74,259.95 303.87,263.47 301.32,264.63" fill="#a9d6ea"/>
<polygon points="299.59,266.84 296.46,270.36 295.02,267.96" fill="#a9d6ea"/>
<polygon points="300.08,265.74 304.25,267.95 302.26,269.92" fill="#a9d6ea"/>
<polygon points="303.33,269.11 305.39,273.35 302.62,273.77" fill="#a9d6ea"/>
<polygon points="314.86,270.76 313.66,275.32 311.28,273.83" fill="#a9d6ea"/>
<polygon points="291.53,271.96 295.53,274.46 293.41,276.29" fill="#a9d6ea"/>
<polygon points="297.66,271.08 299.07,275.58 296.27,275.59" fill="#a9d6ea"/>
<polygon points="294.51,256.69 298.98,258.18 297.34,260.45" fill="#a9d6ea"/>
<polygon points="272.01,270.79 269.08,275.71 266.9,273.37" fill="#eef6e8"/>
<polygon points="276.68,254.46 273.75,259.38 271.56,257.04" fill="#eef6e8"/>
<polygon points="290.34,267.72 289.68,275.32 286.98,274.57" fill="#f2eeb0"/>
<polygon points="308.34,263.05 307.68,270.65 304.98,269.91" fill="#f2eeb0"/>
<path d="M359.2 112.9C358.37 113.18 357.53 114.17 355.8 114.9C354.07 115.63 350.55 116.5 348.8 117.3C347.05 118.1 346.65 118.53 345.3 119.7C343.95 120.87 342.25 122.37 340.7 124.3C339.15 126.23 337.28 129.27 336 131.3C334.72 133.33 333.83 134.8 333 136.5C332.17 138.2 331.88 139.75 331 141.5C330.12 143.25 328.7 144.42 327.7 147C326.7 149.58 325.88 153.5 325 157C324.12 160.5 323.4 164.5 322.4 168C321.4 171.5 320.07 174.88 319 178C317.93 181.12 317.38 183.9 316 186.7C314.62 189.5 311.97 192.47 310.7 194.8C309.43 197.13 309.07 198.5 308.4 200.7C307.73 202.9 307.33 206.45 306.7 208C306.07 209.55 305.75 208.87 304.6 210C303.45 211.13 300.9 213.2 299.8 214.8C298.7 216.4 298 217.73 298 219.6C298 221.47 299.38 223.87 299.8 226C300.22 228.13 300.55 230.3 300.5 232.4C300.45 234.5 298.98 237.3 299.5 238.6C300.02 239.9 302.05 239.6 303.6 240.2C305.15 240.8 307.25 241 308.8 242.2C310.35 243.4 311.87 245.42 312.9 247.4C313.93 249.38 314.32 251.95 315 254.1C315.68 256.25 316.48 258.75 317 260.3C317.52 261.85 317.83 261.85 318.1 263.4C318.37 264.95 318.38 266.67 318.6 269.6C318.82 272.53 319.17 277.27 319.4 281C319.63 284.73 316.57 288.83 320 292C323.43 295.17 329.17 298.67 340 300C350.83 301.33 377.5 316.67 385 300C392.5 283.33 386.67 217.17 385 200C383.33 182.83 377.57 196.87 375 197C372.43 197.13 370.68 199.62 369.6 200.8C368.52 201.98 369.22 202.65 368.5 204.1C367.78 205.55 366.55 208.6 365.3 209.5C364.05 210.4 362.53 210.22 361 209.5C359.47 208.78 357 206.65 356.1 205.2C355.2 203.75 355.78 202.43 355.6 200.8C355.42 199.17 354.83 197.02 355 195.4C355.17 193.78 355.78 192.35 356.6 191.1C357.42 189.85 359 188.98 359.9 187.9C360.8 186.82 361.82 185.68 362 184.6C362.18 183.52 361.62 181.85 361 181.4C360.38 180.95 359.12 181.18 358.3 181.9C357.48 182.62 356.73 185.25 356.1 185.7C355.47 186.15 354.5 185.68 354.5 184.6C354.5 183.52 355.98 180.9 356.1 179.2C356.22 177.5 355.83 176.17 355.2 174.4C354.57 172.63 353.07 170.35 352.3 168.6C351.53 166.85 350.8 165.45 350.6 163.9C350.4 162.35 350.62 161.62 351.1 159.3C351.58 156.98 352.82 153.12 353.5 150C354.18 146.88 354.62 143.72 355.2 140.6C355.78 137.48 356.42 134.22 357 131.3C357.58 128.38 358.1 125.43 358.7 123.1C359.3 120.77 360.15 118.72 360.6 117.3C361.05 115.88 361.37 115.28 361.4 114.6C361.43 113.92 361.17 113.48 360.8 113.2C360.43 112.92 360.03 112.62 359.2 112.9Z" fill="#efefdb" stroke="#7a7a7a" stroke-width="1.6" stroke-linejoin="round"/>
<path d="M151.5 73.6L157.5 281.4M182.7 73.6L188.38 281.4M213.9 73.6L219.26 281.4M245.1 73.6L250.14 281.4M276.3 73.6L281.02 281.4M307.5 73.6L311.9 281.4M338.7 73.6L342.78 281.4M150.7 92.35L369.35 87.8M150.7 119.04L369.35 114.47M150.7 145.73L369.35 141.14M150.7 172.42L369.35 167.81M150.7 199.11L369.35 194.48M150.7 225.8L369.35 221.15M150.7 252.49L369.35 247.82M150.7 279.18L369.35 274.49" stroke="#ababab" stroke-width="1.4" fill="none"/></g></g>
<g id="stat"><rect x="150.7" y="73.6" width="218.65" height="207.8" fill="none" stroke="#000" stroke-width="1.2"/>
<text x="151.5" y="63.1" font-size="13.9" text-anchor="middle" textLength="53" lengthAdjust="spacingAndGlyphs">112.5°E</text>
<text x="157.5" y="298.75" font-size="13.9" text-anchor="middle" textLength="53" lengthAdjust="spacingAndGlyphs">112.5°E</text>
<text x="213.75" y="63.1" font-size="13.9" text-anchor="middle" textLength="40" lengthAdjust="spacingAndGlyphs">113°E</text>
<text x="219.7" y="298.75" font-size="13.9" text-anchor="middle" textLength="40" lengthAdjust="spacingAndGlyphs">113°E</text>
<text x="276.25" y="63.1" font-size="13.9" text-anchor="middle" textLength="52.5" lengthAdjust="spacingAndGlyphs">113.5°E</text>
<text x="281.6" y="298.75" font-size="13.9" text-anchor="middle" textLength="52.5" lengthAdjust="spacingAndGlyphs">113.5°E</text>
<text x="338.75" y="63.1" font-size="13.9" text-anchor="middle" textLength="40" lengthAdjust="spacingAndGlyphs">114°E</text>
<text x="342.8" y="298.75" font-size="13.9" text-anchor="middle" textLength="40" lengthAdjust="spacingAndGlyphs">114°E</text>
<text x="142.9" y="97.35" font-size="13.9" text-anchor="end" textLength="46" lengthAdjust="spacingAndGlyphs">21.6°S</text>
<text x="142.9" y="124.04" font-size="13.9" text-anchor="end" textLength="46" lengthAdjust="spacingAndGlyphs">21.8°S</text>
<text x="142.9" y="150.73" font-size="13.9" text-anchor="end" textLength="32.2" lengthAdjust="spacingAndGlyphs">22°S</text>
<text x="142.9" y="177.42" font-size="13.9" text-anchor="end" textLength="46" lengthAdjust="spacingAndGlyphs">22.2°S</text>
<text x="142.9" y="204.11" font-size="13.9" text-anchor="end" textLength="46" lengthAdjust="spacingAndGlyphs">22.4°S</text>
<text x="142.9" y="230.8" font-size="13.9" text-anchor="end" textLength="46" lengthAdjust="spacingAndGlyphs">22.6°S</text>
<text x="142.9" y="257.49" font-size="13.9" text-anchor="end" textLength="46" lengthAdjust="spacingAndGlyphs">22.8°S</text>
<text x="142.9" y="284.18" font-size="13.9" text-anchor="end" textLength="32.2" lengthAdjust="spacingAndGlyphs">23°S</text>
<rect x="383.5" y="125.6" width="5" height="103.6" fill="url(#cmap)" stroke="#000" stroke-width="1.1"/>
<path d="M389 125.6h4.6M389 177.4h4.6M389 229.2h4.6" stroke="#000" stroke-width="1.1"/>
<text x="399.3" y="129.9" font-size="13.9" text-anchor="start" textLength="18.7" lengthAdjust="spacingAndGlyphs">1.0</text>
<text x="399.3" y="181.7" font-size="13.9" text-anchor="start" textLength="18.7" lengthAdjust="spacingAndGlyphs">0.5</text>
<text x="399.3" y="233.5" font-size="13.9" text-anchor="start" textLength="18.7" lengthAdjust="spacingAndGlyphs">0.0</text></g></defs>
<text x="599.7" y="25.9" font-size="18.2" text-anchor="middle" textLength="320.2" lengthAdjust="spacingAndGlyphs">GP kernel - helmholtz_psi_w_matern12</text><text x="599.9" y="46.75" font-size="18" text-anchor="middle" textLength="189.8" lengthAdjust="spacingAndGlyphs">2026-03-16T08:00:00Z</text>
<use href="#map" transform="translate(0 0)"/>
<use href="#stat" transform="translate(0 0)"/>
<use href="#map" transform="translate(328 0)"/>
<use href="#stat" transform="translate(328 0)"/>
<use href="#map" transform="translate(656 0)"/>
<use href="#stat" transform="translate(656 0)"/>
<use href="#map" transform="translate(0 252.3)"/>
<use href="#stat" transform="translate(0 252.3)"/>
<use href="#map" transform="translate(328 252.3)"/>
<use href="#stat" transform="translate(328 252.3)"/>
<use href="#map" transform="translate(656 252.3)"/>
<use href="#stat" transform="translate(656 252.3)"/>
</svg>
</body></html>
